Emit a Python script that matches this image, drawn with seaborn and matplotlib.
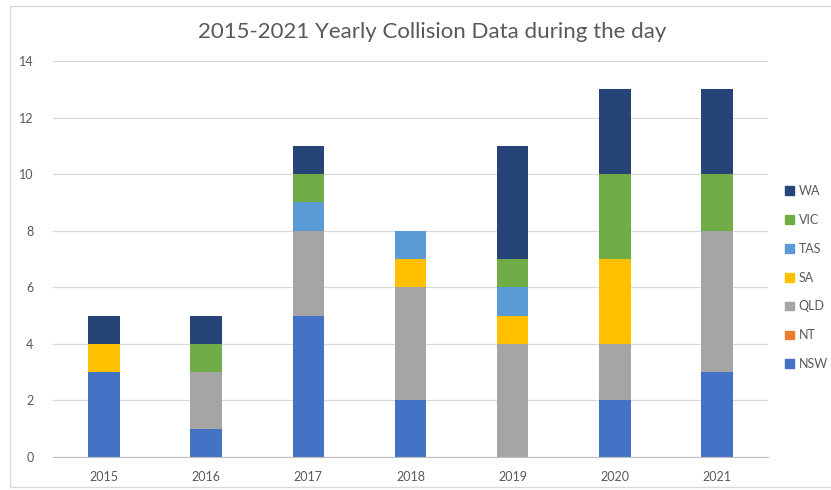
import numpy as np
import pandas as pd
import matplotlib
matplotlib.use("Agg")
import matplotlib.pyplot as plt
import matplotlib.patches as mpatches
import seaborn as sns

years = ["2015", "2016", "2017", "2018", "2019", "2020", "2021"]
states = ["NSW", "NT", "QLD", "SA", "TAS", "VIC", "WA"]
nsw = [3, 1, 5, 2, 0, 2, 3]
nt = [0, 0, 0, 0, 0, 0, 0]
qld = [0, 2, 3, 4, 4, 2, 5]
sa = [1, 0, 0, 1, 1, 3, 0]
tas = [0, 0, 1, 1, 1, 0, 0]
vic = [0, 1, 1, 0, 1, 3, 2]
wa = [1, 1, 1, 0, 4, 3, 3]
colors = ["#4472C4", "#ED7D31", "#A5A5A5", "#FFC000", "#5B9BD5", "#70AD47", "#264478"]

values = {"NSW": nsw, "NT": nt, "QLD": qld, "SA": sa, "TAS": tas, "VIC": vic, "WA": wa}

sns.set_style("white")
plt.rcParams["font.family"] = ["Lato", "DejaVu Sans"]
text_col = "#595959"

fig = plt.figure(figsize=(8.31, 4.9), dpi=100)
ax = fig.add_axes([53 / 831, 33 / 490, 715 / 831, 396 / 490])

# stack the states one layer at a time
bottom = np.zeros(len(years))
for state, col in zip(states, colors):
    df = pd.DataFrame({"year": years, "count": values[state]})
    sns.barplot(data=df, x="year", y="count", color=col, width=0.31,
                bottom=bottom, ax=ax, saturation=1, errorbar=None, linewidth=0)
    bottom += np.array(values[state])

ax.set_xlim(-0.5, len(years) - 0.5)
ax.set_ylim(0, 14)
ax.set_yticks(range(0, 15, 2))
ax.yaxis.grid(True, color="#D9D9D9", linewidth=0.9)
ax.set_axisbelow(True)
for s in ["top", "right", "left"]:
    ax.spines[s].set_visible(False)
ax.spines["bottom"].set_color("#BFBFBF")
ax.set_xlabel("")
ax.set_ylabel("")
ax.tick_params(axis="y", length=0, labelsize=9, labelcolor=text_col, pad=14)
ax.tick_params(axis="x", length=0, labelsize=9, labelcolor=text_col, pad=10)
ax.set_xticks(np.arange(-0.5, len(years)), minor=True)
ax.tick_params(axis="x", which="minor", length=5, color="#BFBFBF")

# title is centred on the whole chart area, not the axes
fig.text(432 / 831, 1 - 32 / 490, "2015-2021 Yearly Collision Data during the day",
         fontsize=16, color=text_col, ha="center", va="center")

handles = [mpatches.Patch(color=c, label=s) for s, c in zip(states, colors)][::-1]
fig.legend(handles=handles, loc="upper left", bbox_to_anchor=(780 / 831, 1 - 180 / 490),
           frameon=False, fontsize=9, labelcolor=text_col, handlelength=0.7,
           handleheight=0.7, handletextpad=0.4, labelspacing=1.35, borderaxespad=0)

fig.patches.append(mpatches.Rectangle((10 / 831, 3 / 490), 1.0, 481 / 490,
                                      transform=fig.transFigure, fill=False,
                                      edgecolor="#D9D9D9", linewidth=1))

fig.savefig("out.png", dpi=100)
